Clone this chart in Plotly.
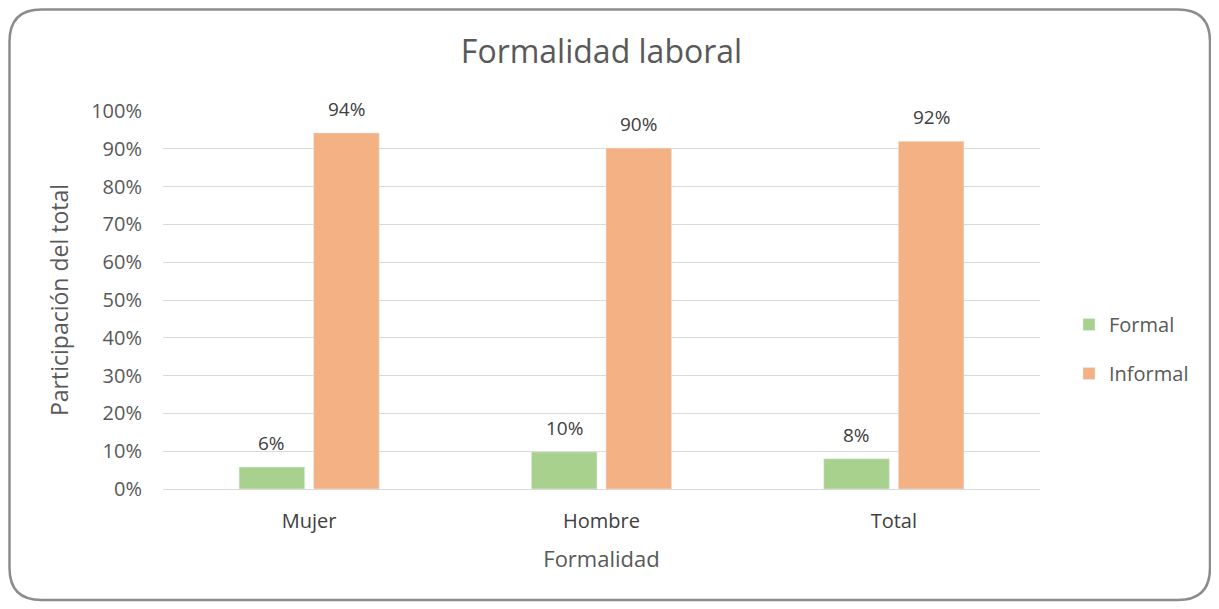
import plotly.graph_objects as go

categories = ["Mujer", "Hombre", "Total"]
formal = [0.058, 0.098, 0.08]
informal = [0.942, 0.902, 0.92]
tick_vals = [0, 0.1, 0.2, 0.3, 0.4, 0.5, 0.6, 0.7, 0.8, 0.9, 1.0]

# page body has an 8px margin, so work in figure coordinates
W, H = 1211, 601
L, T = 155, 103
PR, PB = 1032, 481
R, B = W - PR, H - PB
pw, ph = PR - L, PB - T

FONT = "Open Sans, Lato, sans-serif"
GREY = "#595959"
BARGAP, GROUPGAP = 0.49, 0.12

fig = go.Figure()
fig.add_trace(go.Bar(x=categories, y=formal, name="Formal", marker_color="#a9d18e",
                     legendgroup="a"))
fig.add_trace(go.Bar(x=categories, y=informal, name="Informal", marker_color="#f4b183",
                     legendgroup="b"))

# value labels above bars
slot_px = pw / len(categories) * (1 - BARGAP) / 2
for series, sign in ((formal, -1), (informal, 1)):
    for c, v in zip(categories, series):
        fig.add_annotation(x=c, y=v, text=f"{v:.0%}", showarrow=False,
                           xshift=sign * slot_px / 2, yshift=9, yanchor="bottom",
                           font=dict(size=19, color="#404040", family=FONT))

def P(x, y):
    a, b = (x - L) / pw, (PB - y) / ph
    return f"{a:.5f},{b:.5f}"

# rounded border
x0, y0, x1, y1, r = 1.5, 1.5, 1202, 592, 32
path = (f"M {P(x0+r, y0)} L {P(x1-r, y0)} Q {P(x1, y0)} {P(x1, y0+r)} "
        f"L {P(x1, y1-r)} Q {P(x1, y1)} {P(x1-r, y1)} "
        f"L {P(x0+r, y1)} Q {P(x0, y1)} {P(x0, y1-r)} "
        f"L {P(x0, y0+r)} Q {P(x0, y0)} {P(x0+r, y0)} Z")
fig.add_shape(type="path", xref="paper", yref="paper", path=path,
              line=dict(color="#8c8c8c", width=2.5), fillcolor="rgba(0,0,0,0)", layer="below")

fig.update_layout(
    width=W, height=H,
    margin=dict(l=L, r=R, t=T, b=B, autoexpand=False),
    paper_bgcolor="white", plot_bgcolor="white",
    font=dict(family=FONT, color=GREY),
    title=dict(text="Formalidad laboral", x=0.5, xref="paper", xanchor="center",
               y=1 - 44 / H, yanchor="middle", yref="container",
               font=dict(size=32, color=GREY, family=FONT)),
    bargap=BARGAP, bargroupgap=GROUPGAP,
    showlegend=True,
    legend=dict(x=(1061 - L) / pw, y=(PB - 297) / ph, xanchor="left", yanchor="top",
                font=dict(size=20, color=GREY), tracegroupgap=20, itemwidth=30,
                bgcolor="rgba(0,0,0,0)"),
    xaxis=dict(title=dict(text="Formalidad", font=dict(size=22, color=GREY), standoff=18),
               tickfont=dict(size=20, color="#404040"), showgrid=False, showline=False,
               ticks="", ticklabelstandoff=18),
    yaxis=dict(title=dict(text="Participación del total", font=dict(size=23, color=GREY), standoff=16),
               range=[0, 1], tickvals=tick_vals, tickformat=".0%",
               tickfont=dict(size=20, color=GREY), gridcolor="#d9d9d9", gridwidth=1.3,
               zeroline=True, zerolinecolor="#d9d9d9", zerolinewidth=1.3,
               showline=False, ticks="", ticklabelstandoff=20),
)

fig.write_html("out.html")
